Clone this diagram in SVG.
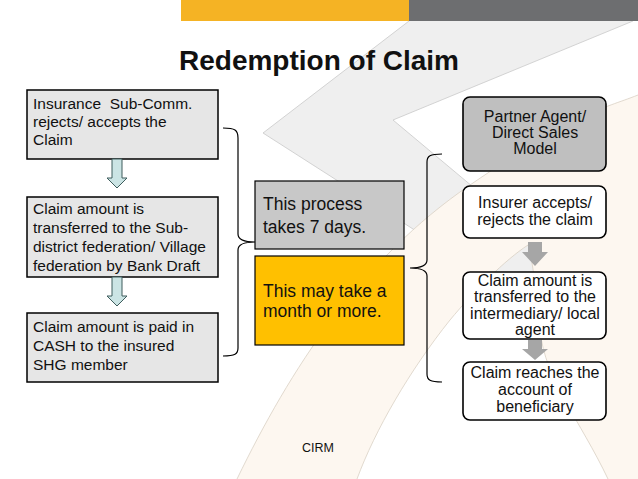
<svg xmlns="http://www.w3.org/2000/svg" width="638" height="479" viewBox="0 0 638 479">
<style>
text{font-family:"Liberation Sans",Arial,sans-serif;fill:#111}
.lbox{fill:#e6e6e6;stroke:#000;stroke-width:1.5}
.lt{font-size:15.5px}
.rbox{stroke:#000;stroke-width:1.6}
.rt{font-size:16px;text-anchor:middle}
.mt{font-size:17.5px}
.brace{fill:none;stroke:#000;stroke-width:1.2}
.barrow{fill:#cbe4e4;stroke:#3e5c5c;stroke-width:1}
.garrow{fill:#a6a6a6}
.edge{fill:none;stroke:#c9c9c9;stroke-width:0.8}
.bedge{fill:none;stroke:#d9d0c4;stroke-width:0.8}
</style>
<rect width="638" height="479" fill="#fff"/>
<g id="background">
<polygon points="409,21 633,21 393,120 638,325 638,373 263,133" fill="#efefef"/>
<polyline class="edge" points="409,21 263,133 638,373"/>
<polyline class="edge" points="633,21 393,120 638,325"/>
<path d="M237,479 C290,370 360,260 470,185 S600,110 638,95 L638,479 L608,479 C580,420 545,380 540,330 C536,290 533,262 528,245 C505,260 475,290 450,320 C410,370 375,430 357,479 Z" fill="#fdf7f0"/>
<path class="bedge" d="M237,479 C290,370 360,260 470,185 S600,110 638,95"/>
<path class="bedge" d="M608,479 C580,420 545,380 540,330 C536,290 533,262 528,245 C505,260 475,290 450,320 C410,370 375,430 357,479"/>
<rect x="181" y="0" width="228" height="21" fill="#f5b324"/>
<rect x="409" y="0" width="229" height="21" fill="#6d6e70"/>
</g>
<text x="179" y="70" font-size="28" font-weight="bold" fill="#000">Redemption of Claim</text>
<g id="box-subcomm">
<rect class="lbox" x="27" y="90" width="191" height="69"/>
<text class="lt" x="33" y="109" xml:space="preserve">Insurance  Sub-Comm.</text>
<text class="lt" x="33" y="127">rejects/ accepts the</text>
<text class="lt" x="33" y="145">Claim</text>
</g>
<g id="box-transfer">
<rect class="lbox" x="27" y="197" width="191" height="80"/>
<text class="lt" x="33" y="214">Claim amount is</text>
<text class="lt" x="33" y="233">transferred to the Sub-</text>
<text class="lt" x="33" y="252">district federation/ Village</text>
<text class="lt" x="33" y="271">federation by Bank Draft</text>
</g>
<g id="box-cash">
<rect class="lbox" x="27" y="313" width="191" height="69"/>
<text class="lt" x="33" y="332">Claim amount is paid in</text>
<text class="lt" x="33" y="351">CASH to the insured</text>
<text class="lt" x="33" y="370">SHG member</text>
</g>
<g id="box-7days">
<rect x="255" y="181" width="149" height="68" fill="#c8c8c8" stroke="#000" stroke-width="1.2"/>
<text class="mt" x="263" y="210">This process</text>
<text class="mt" x="263" y="233">takes 7 days.</text>
</g>
<g id="box-month">
<rect x="255" y="256" width="149" height="89" fill="#ffc000" stroke="#000" stroke-width="1.2"/>
<text class="mt" x="263" y="297">This may take a</text>
<text class="mt" x="263" y="317">month or more.</text>
</g>
<g id="box-partner">
<rect class="rbox" x="463" y="97" width="143" height="74" rx="7" fill="#bfbfbf"/>
<text class="rt" x="535" y="122">Partner Agent/</text>
<text class="rt" x="535" y="138">Direct Sales</text>
<text class="rt" x="535" y="154">Model</text>
</g>
<g id="box-insurer">
<rect class="rbox" x="463" y="186" width="143" height="52" rx="7" fill="#fff"/>
<text class="rt" x="535" y="208">Insurer accepts/</text>
<text class="rt" x="535" y="225">rejects the claim</text>
</g>
<g id="box-intermediary">
<rect class="rbox" x="463" y="272" width="143" height="67" rx="7" fill="#fff"/>
<text class="rt" x="535" y="286">Claim amount is</text>
<text class="rt" x="535" y="302">transferred to the</text>
<text class="rt" x="535" y="319">intermediary/ local</text>
<text class="rt" x="535" y="335">agent</text>
</g>
<g id="box-beneficiary">
<rect class="rbox" x="463" y="362" width="143" height="58" rx="7" fill="#fff"/>
<text class="rt" x="535" y="378">Claim reaches the</text>
<text class="rt" x="535" y="395">account of</text>
<text class="rt" x="535" y="412">beneficiary</text>
</g>
<g id="connectors">
<polygon class="barrow" points="112,159 122,159 122,178 127,178 117,188 107,178 112,178"/>
<polygon class="barrow" points="112,277 122,277 122,296 127,296 117,306 107,296 112,296"/>
<polygon class="garrow" points="528,242 542,242 542,252 548,252 535,266 522,252 528,252"/>
<polygon class="garrow" points="528,340 542,340 542,349 548,349 535,360 522,349 528,349"/>
<path class="brace" d="M223,128 C235,128 238,130 238,138 L238,234 C238,240 244,242 255,242 C244,242 238,244 238,250 L238,348 C238,354 235,356 223,356"/>
<path class="brace" d="M442,154 C430,154 427,156 427,162 L427,260 C427,266 421,268 410,268 C421,268 427,270 427,276 L427,374 C427,380 430,382 442,382"/>
</g>
<text x="318" y="452" font-size="12.5" text-anchor="middle">CIRM</text>
</svg>
